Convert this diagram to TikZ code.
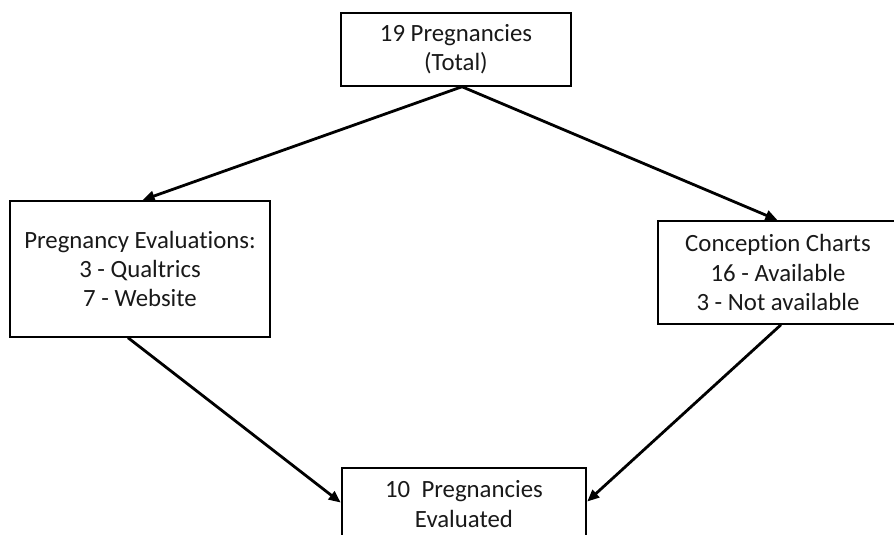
\documentclass[tikz,border=0pt]{standalone}
\usepackage{fontspec}
\setmainfont[Ligatures=NoCommon]{Carlito}
\usetikzlibrary{arrows.meta,calc}
\begin{document}
\begin{tikzpicture}[x=0.75pt,y=-0.75pt,
  box/.style={draw=black,line width=1.1pt,align=center,inner sep=0pt,
    font=\fontsize{18.6pt}{21.9pt}\selectfont,text=black!90},
  flow/.style={draw=black,line width=2.1pt,
    -{Triangle[length=9pt,width=7.5pt]},shorten >=0.5pt}]
\useasboundingbox (0,0) rectangle (894,535);
\clip (0,0) rectangle (894,535);
\fill[white] (0,0) rectangle (894,535);

\node[box,minimum width=172.5pt,minimum height=54.75pt] (total) at (456,49.5)
  {19 Pregnancies\\(Total)};
\node[box,minimum width=195pt,minimum height=102pt] (eval) at (140,269)
  {Pregnancy Evaluations:\\3 - Qualtrics\\7 - Website};
\node[box,minimum width=180pt,minimum height=77.25pt] (charts) at (778,272.5)
  {Conception Charts\\16 - Available\\3 - Not available};
\node[box,minimum width=183pt,minimum height=54pt] (done) at (464,504)
  {10~~Pregnancies\\Evaluated};

\draw[flow] ($(total.south)+(6,0)$) -- ($(eval.north)+(2,0)$);
\draw[flow] ($(total.south)+(6,0)$) -- (charts.north);
\draw[flow] ($(eval.south)+(-12,0)$) -- ($(done.west)+(0,-1)$);
\draw[flow] ($(charts.south)+(3,0)$) -- ($(done.east)+(0,-2)$);
\end{tikzpicture}
\end{document}
